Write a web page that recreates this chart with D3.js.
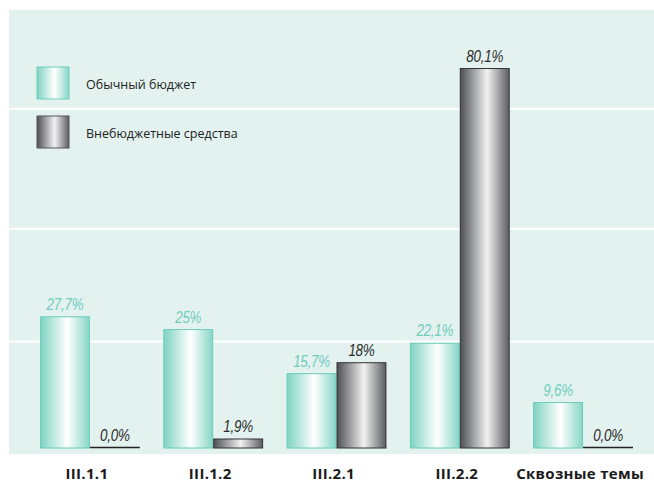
<html>
<head>
    <script src="https://d3js.org/d3.v7.min.js"></script>
</head>
<body style="margin:0;background:#fff">
    <svg id="budget_chart" width="654" height="484"></svg>
</body>
<style>
    text{font-family: "Open Sans", "Liberation Sans", Arial, sans-serif}
</style>
<script>
    // data
    const categories = ['III.1.1', 'III.1.2', 'III.2.1', 'III.2.2', 'Сквозные темы']
    const regularBudget = [27.7, 25, 15.7, 22.1, 9.6]
    const extraBudget = [0.0, 1.9, 18, 80.1, 0.0]
    const regularLabels = ['27,7%', '25%', '15,7%', '22,1%', '9,6%']
    const extraLabels = ['0,0%', '1,9%', '18%', '80,1%', '0,0%']
    const seriesNames = ['Обычный бюджет', 'Внебюджетные средства']
    const gridValues = [22.5, 46.3, 71.6]

    let svg = d3.select('svg#budget_chart')

    const panel = {left: 9, top: 10, right: 654, bottom: 454}
    const baseY = 448

    let defs = svg.append('defs')
    function hGrad(id, edgeL, edgeR, mid) {
        let g = defs.append('linearGradient').attr('id', id)
            .attr('x1', '0%').attr('x2', '100%').attr('y1', '0%').attr('y2', '0%')
        g.append('stop').attr('offset', '0%').attr('stop-color', edgeL)
        g.append('stop').attr('offset', '55%').attr('stop-color', mid)
        g.append('stop').attr('offset', '100%').attr('stop-color', edgeR)
    }
    hGrad('tealGrad', '#7ed3c2', '#86d6c6', '#ffffff')
    hGrad('grayGrad', '#4e4f53', '#5b5c60', '#f2f2f2')

    svg.append('rect')
       .attr('x', panel.left).attr('y', panel.top)
       .attr('width', panel.right - panel.left)
       .attr('height', panel.bottom - panel.top)
       .attr('fill', '#e3f2ef')

    let x = d3.scaleBand()
              .domain(categories)
              .range([40, 633])
              .paddingInner(0.19)
              .paddingOuter(0)

    let y = d3.scaleLinear()
              .domain([0, 80])
              .range([baseY, baseY - 379])

    // gridlines
    svg.selectAll('line.grid')
       .data(gridValues)
       .join('line')
       .attr('class', 'grid')
       .attr('x1', panel.left).attr('x2', panel.right)
       .attr('y1', d => y(d)).attr('y2', d => y(d))
       .attr('stroke', 'white')
       .attr('stroke-width', 2)

    const bw = x.bandwidth() / 2

    let rows = categories.map((c, i) => ({cat: c, reg: regularBudget[i], ext: extraBudget[i],
                                          regL: regularLabels[i], extL: extraLabels[i]}))

    // regular budget bars
    svg.selectAll('rect.reg')
       .data(rows)
       .join('rect')
       .attr('class', 'reg')
       .attr('x', d => x(d.cat) + 0.5)
       .attr('y', d => y(d.reg))
       .attr('width', bw - 1)
       .attr('height', d => baseY - y(d.reg))
       .attr('fill', 'url(#tealGrad)')
       .attr('stroke', '#6ccdba')
       .attr('stroke-width', 1)

    // extrabudgetary bars
    svg.selectAll('rect.ext')
       .data(rows.filter(d => d.ext > 0))
       .join('rect')
       .attr('class', 'ext')
       .attr('x', d => x(d.cat) + bw + 0.5)
       .attr('y', d => y(d.ext))
       .attr('width', bw - 1)
       .attr('height', d => baseY - y(d.ext))
       .attr('fill', 'url(#grayGrad)')
       .attr('stroke', '#333333')
       .attr('stroke-width', 1)

    // zero values drawn as a line on the base
    svg.selectAll('line.zero')
       .data(rows.filter(d => d.ext === 0))
       .join('line')
       .attr('class', 'zero')
       .attr('x1', d => x(d.cat) + bw)
       .attr('x2', d => x(d.cat) + 2 * bw)
       .attr('y1', baseY - 0.5).attr('y2', baseY - 0.5)
       .attr('stroke', '#222')
       .attr('stroke-width', 1.6)

    // value labels (condensed italic look)
    svg.selectAll('text.regval')
       .data(rows)
       .join('text')
       .attr('class', 'regval')
       .attr('transform', d => `translate(${x(d.cat) + bw / 2}, ${y(d.reg) - 7}) scale(0.84, 1)`)
       .attr('text-anchor', 'middle')
       .attr('font-size', '16px')
       .attr('font-style', 'italic')
       .style('font-family', '"Liberation Sans", Arial, sans-serif')
       .attr('letter-spacing', '-0.3px')
       .attr('fill', '#6fcdbc')
       .text(d => d.regL)

    svg.selectAll('text.extval')
       .data(rows)
       .join('text')
       .attr('class', 'extval')
       .attr('transform', d => `translate(${x(d.cat) + bw * 1.5}, ${y(d.ext) - 7}) scale(0.84, 1)`)
       .attr('text-anchor', 'middle')
       .attr('font-size', '16px')
       .attr('font-style', 'italic')
       .style('font-family', '"Liberation Sans", Arial, sans-serif')
       .attr('letter-spacing', '-0.3px')
       .attr('fill', '#2b2b2b')
       .text(d => d.extL)

    // category axis
    let xAxis = svg.append('g')
       .attr('transform', `translate(0, 468)`)
       .call(d3.axisBottom(x).tickSize(0).tickPadding(0))
    xAxis.select('path.domain').remove()
    xAxis.selectAll('text')
         .attr('font-size', '15px')
         .attr('font-weight', 'bold')
         .style('font-family', '"Open Sans", sans-serif')
         .attr('letter-spacing', '0.3px')
         .attr('fill', '#1a1a1a')
         .attr('dy', '0.71em')
         .attr('dx', '-3')

    // legend
    const legendFills = ['url(#tealGrad)', 'url(#grayGrad)']
    const legendStrokes = ['#6ccdba', '#555']
    let legend = svg.selectAll('g.legend')
       .data(seriesNames)
       .join('g')
       .attr('class', 'legend')
       .attr('transform', (d, i) => `translate(37, ${67 + i * 49})`)
    legend.append('rect')
          .attr('width', 32).attr('height', 32)
          .attr('fill', (d, i) => legendFills[i])
          .attr('stroke', (d, i) => legendStrokes[i])
          .attr('stroke-width', 1)
    legend.append('text')
          .attr('x', 49).attr('y', 22)
          .attr('font-size', '12.5px')
          .attr('fill', '#222')
          .text(d => d)
</script>
</html>
